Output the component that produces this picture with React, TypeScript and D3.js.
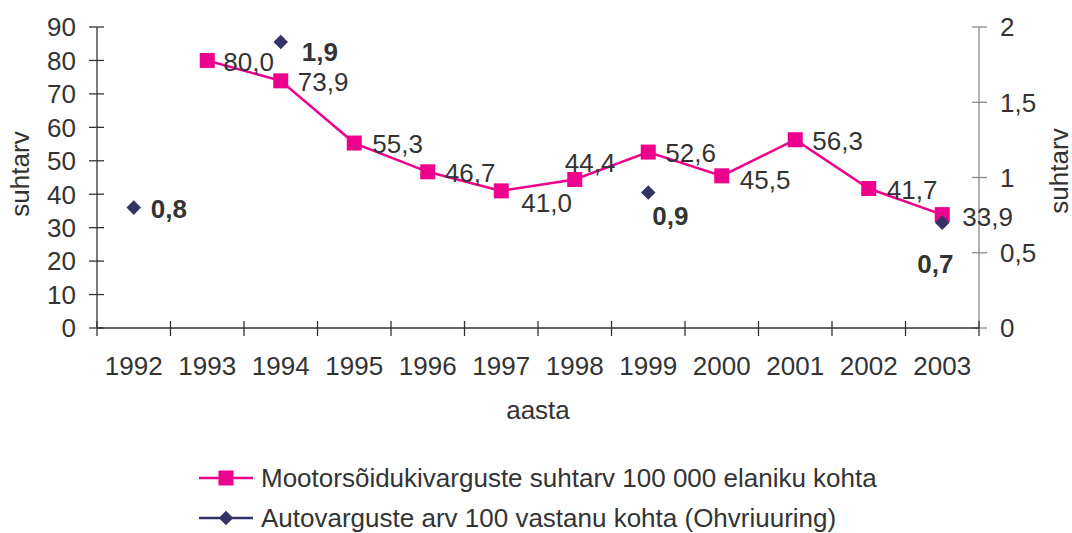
import React from "react";
import * as d3 from "d3";

const years = ["1992", "1993", "1994", "1995", "1996", "1997", "1998", "1999", "2000", "2001", "2002", "2003"];
// Mootorsõidukivarguste suhtarv 100 000 elaniku kohta (left axis)
const theftRate: (number | null)[] = [null, 80.0, 73.9, 55.3, 46.7, 41.0, 44.4, 52.6, 45.5, 56.3, 41.7, 33.9];
// Autovarguste arv 100 vastanu kohta (right axis)
const victimRate: (number | null)[] = [0.8, null, 1.9, null, null, null, null, 0.9, null, null, null, 0.7];
const leftTicks = [0, 10, 20, 30, 40, 50, 60, 70, 80, 90];
const rightTicks = [0, 0.5, 1, 1.5, 2];

// label offsets (dx, dy) from the marker, as placed in the original
const theftLabelOffset = [[0, 0], [16, 1], [17, 1], [18, 1], [17, 1], [20, 12], [-10, -17], [17, 1], [18, 4], [17, 1], [18, 1], [20, 2]];
const victimLabelOffset = [[17, 1], [0, 0], [21, 10], [0, 0], [0, 0], [0, 0], [0, 0], [4, 23], [0, 0], [0, 0], [0, 0], [-25, 41]];

const W = 1072, H = 533;
const left = 97, right = 979, top = 27, bottom = 328;
const font = "'Liberation Sans', Arial, sans-serif";
const fs = 26;
const textCol = "#333333";
const pink = "#EC008C";
const navy = "#333366";

const fmt = (v: number) => String(v).replace(".", ",");
const fmt1 = (v: number) => v.toFixed(1).replace(".", ",");

export default function App() {
  const x = d3.scaleBand().domain(years).range([left, right]);
  const yL = d3.scaleLinear().domain([0, 90]).range([bottom, top]);
  const yR = d3.scaleLinear().domain([0, 2]).range([bottom, top]);
  const cx = (y: string) => (x(y) as number) + x.bandwidth() / 2;

  const line = d3
    .line<number | null>()
    .defined((d) => d !== null)
    .x((_, i) => cx(years[i]))
    .y((d) => yL(d as number));

  const diamond = d3.symbol().type(d3.symbolDiamond2).size(135)();

  const boundaries = years.map((y) => x(y) as number).concat([right]);

  return (
    <svg width={W} height={H} style={{ position: "absolute", left: 0, top: 0 }} fontFamily={font}>
      <rect width={W} height={H} fill="#fff" />
      {/* left axis */}
      <line x1={left} x2={left} y1={top} y2={bottom} stroke="#333" strokeWidth={1.3} />
      {leftTicks.map((t) => (
        <g key={"l" + t}>
          <line x1={left - 8} x2={left + 7} y1={yL(t)} y2={yL(t)} stroke="#333" strokeWidth={1.3} />
          <text x={left - 21} y={yL(t)} dy="0.36em" textAnchor="end" fontSize={fs} fill={textCol}>
            {t}
          </text>
        </g>
      ))}
      {/* right axis */}
      <line x1={right} x2={right} y1={top} y2={bottom} stroke="#888" strokeWidth={1.3} />
      {rightTicks.map((t) => (
        <g key={"r" + t}>
          <line x1={right - 7} x2={right + 8} y1={yR(t)} y2={yR(t)} stroke="#888" strokeWidth={1.3} />
          <text x={right + 21} y={yR(t)} dy="0.36em" textAnchor="start" fontSize={fs} fill={textCol}>
            {fmt(t)}
          </text>
        </g>
      ))}
      {/* x axis */}
      <line x1={left} x2={right} y1={bottom} y2={bottom} stroke="#333" strokeWidth={1.3} />
      {boundaries.map((b, i) => (
        <line key={"b" + i} x1={b} x2={b} y1={bottom - 7} y2={bottom + 8} stroke="#333" strokeWidth={1.3} />
      ))}
      {years.map((y) => (
        <text key={"x" + y} x={cx(y)} y={375} textAnchor="middle" fontSize={fs} fill={textCol}>
          {y}
        </text>
      ))}
      {/* axis titles */}
      <text x={538} y={419} textAnchor="middle" fontSize={fs} fill={textCol}>aasta</text>
      <text transform={`translate(29,174) rotate(-90)`} textAnchor="middle" fontSize={fs} fill={textCol}>suhtarv</text>
      <text transform={`translate(1068,171) rotate(-90)`} textAnchor="middle" fontSize={fs} fill={textCol}>suhtarv</text>

      {/* pink series */}
      <path d={line(theftRate) || ""} fill="none" stroke={pink} strokeWidth={2.5} />
      {theftRate.map((v, i) =>
        v === null ? null : (
          <rect key={"s" + i} x={cx(years[i]) - 7.5} y={yL(v) - 7.5} width={15} height={15} fill={pink} />
        )
      )}
      {/* navy series */}
      {victimRate.map((v, i) =>
        v === null ? null : (
          <path key={"d" + i} d={diamond || ""} transform={`translate(${cx(years[i])},${yR(v)})`} fill={navy} />
        )
      )}
      {/* labels */}
      {theftRate.map((v, i) =>
        v === null ? null : (
          <text
            key={"tl" + i}
            x={cx(years[i]) + theftLabelOffset[i][0]}
            y={yL(v) + theftLabelOffset[i][1]}
            dy="0.36em"
            fontSize={fs}
            fill={textCol}
          >
            {fmt1(v)}
          </text>
        )
      )}
      {victimRate.map((v, i) =>
        v === null ? null : (
          <text
            key={"vl" + i}
            x={cx(years[i]) + victimLabelOffset[i][0]}
            y={yR(v) + victimLabelOffset[i][1]}
            dy="0.36em"
            fontSize={fs}
            fontWeight="bold"
            fill={textCol}
          >
            {fmt1(v)}
          </text>
        )
      )}

      {/* legend */}
      <g>
        <line x1={199} x2={253} y1={478} y2={478} stroke={pink} strokeWidth={2.5} />
        <rect x={226 - 7.5} y={478 - 7.5} width={15} height={15} fill={pink} />
        <text x={261} y={478} dy="0.36em" fontSize={fs} fill={textCol}>
          Mootorsõidukivarguste suhtarv 100 000 elaniku kohta
        </text>
        <line x1={199} x2={253} y1={518} y2={518} stroke={navy} strokeWidth={2.5} />
        <path d={diamond || ""} transform="translate(226,518)" fill={navy} />
        <text x={261} y={518} dy="0.36em" fontSize={fs} fill={textCol}>
          Autovarguste arv 100 vastanu kohta (Ohvriuuring)
        </text>
      </g>
    </svg>
  );
}
